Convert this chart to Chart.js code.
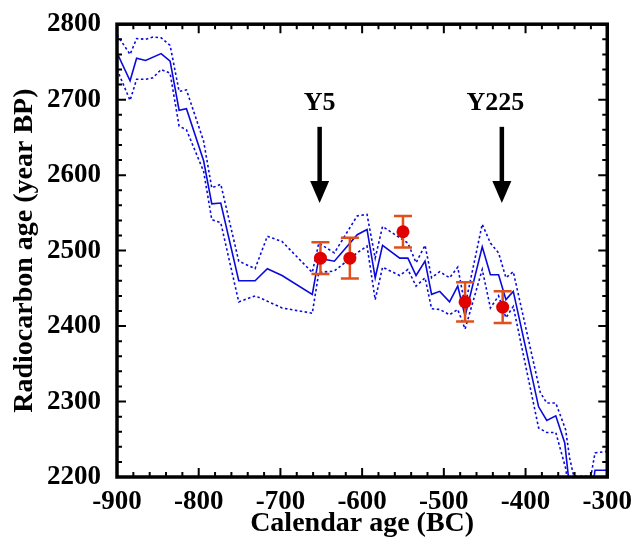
<!DOCTYPE html>
<html lang="en">
<head>
<meta charset="UTF-8">
<title>Radiocarbon calibration</title>
<script src="https://cdn.jsdelivr.net/npm/chart.js"></script>
<style>
    body { margin: 0; background: #fff; }
    canvas { display: block; }
</style>
</head>
<body>
<canvas id="chart" width="633" height="544"></canvas>
<script>
// calibration curve (mean and +/- 1 sigma band)
const meanX = [-900, -884, -876, -865, -846, -835, -824, -815, -794, -784, -773, -751, -731, -716, -698, -661, -653, -634, -606, -594, -584, -575, -554, -544, -534, -523, -515, -505, -493, -483, -474, -453, -443, -433, -424, -415, -384, -374, -363, -352, -346, -318, -315, -300];
const meanY = [2762, 2725, 2755, 2752, 2761, 2751, 2686, 2688, 2619, 2562, 2563, 2460, 2460, 2476, 2467, 2442, 2490, 2486, 2521, 2528, 2464, 2507, 2490, 2490, 2467, 2486, 2442, 2446, 2432, 2453, 2413, 2505, 2468, 2468, 2435, 2446, 2293, 2275, 2281, 2245, 2185, 2185, 2209, 2209];

const upperX = [-900, -884, -876, -865, -856, -846, -835, -824, -815, -794, -784, -773, -751, -731, -716, -698, -661, -653, -634, -606, -594, -584, -575, -554, -544, -534, -523, -515, -505, -493, -483, -474, -453, -443, -433, -424, -415, -382, -374, -363, -351, -346, -341, -320, -315, -300];
const upperY = [2786, 2760, 2781, 2780, 2783, 2782, 2772, 2711, 2713, 2645, 2583, 2588, 2486, 2476, 2519, 2512, 2471, 2510, 2497, 2546, 2548, 2490, 2532, 2517, 2510, 2484, 2507, 2464, 2472, 2464, 2478, 2427, 2535, 2510, 2497, 2464, 2472, 2312, 2298, 2298, 2263, 2225, 2201, 2201, 2232, 2234];

const lowerX = [-900, -884, -876, -865, -856, -846, -835, -824, -815, -794, -784, -773, -751, -731, -716, -698, -661, -653, -634, -606, -594, -584, -575, -554, -544, -534, -523, -515, -505, -493, -483, -474, -453, -443, -433, -424, -415, -384, -374, -363, -351, -345, -318, -315, -300];
const lowerY = [2740, 2699, 2727, 2727, 2729, 2740, 2735, 2665, 2660, 2605, 2541, 2537, 2432, 2440, 2433, 2424, 2417, 2471, 2473, 2497, 2506, 2435, 2478, 2467, 2475, 2453, 2464, 2423, 2422, 2415, 2422, 2396, 2475, 2424, 2440, 2411, 2426, 2265, 2259, 2259, 2212, 2170, 2170, 2185, 2185];

// measured samples
const sampleX = [-651, -615, -550, -474, -428];
const sampleY = [2490, 2490, 2525, 2432, 2425];
const sampleErr = [21, 27, 21, 26, 21];

// arrow markers
const arrowLabels = ['Y5', 'Y225'];
const arrowX = [-652, -429];
const labelX = [-652, -437];
const arrowTop = 2664;
const arrowTip = 2563;
const labelY = 2686;

const xTicks = [-900, -800, -700, -600, -500, -400, -300];
const yTicks = [2200, 2300, 2400, 2500, 2600, 2700, 2800];

const BLUE = '#0a0adc';
const serif = "'Liberation Serif', 'Times New Roman', serif";

function pts(xs, ys) {
    return xs.map((x, i) => ({ x: x, y: ys[i] }));
}

const errorBars = {
    id: 'errorBars',
    beforeDatasetDraw(chart, args) {
        if (args.index !== 0) return;
        const ctx = chart.ctx;
        const xs = chart.scales.x, ys = chart.scales.y;
        ctx.save();
        ctx.strokeStyle = '#e0501a';
        ctx.lineWidth = 2.5;
        sampleX.forEach((v, i) => {
            const px = xs.getPixelForValue(v);
            const top = ys.getPixelForValue(sampleY[i] + sampleErr[i]);
            const bot = ys.getPixelForValue(sampleY[i] - sampleErr[i]);
            ctx.beginPath();
            ctx.moveTo(px, top); ctx.lineTo(px, bot);
            ctx.moveTo(px - 9, top); ctx.lineTo(px + 9, top);
            ctx.moveTo(px - 9, bot); ctx.lineTo(px + 9, bot);
            ctx.stroke();
        });
        ctx.restore();
    }
};

const arrows = {
    id: 'arrows',
    afterDatasetsDraw(chart) {
        const ctx = chart.ctx;
        const xs = chart.scales.x, ys = chart.scales.y;
        ctx.save();
        ctx.fillStyle = '#000';
        ctx.strokeStyle = '#000';
        ctx.font = 'bold 26px ' + serif;
        ctx.textAlign = 'center';
        ctx.textBaseline = 'alphabetic';
        arrowX.forEach((v, i) => {
            const px = xs.getPixelForValue(v);
            const y0 = ys.getPixelForValue(arrowTop);
            const y1 = ys.getPixelForValue(arrowTip);
            ctx.lineWidth = 4.5;
            ctx.beginPath();
            ctx.moveTo(px, y0); ctx.lineTo(px, y1 - 18);
            ctx.stroke();
            ctx.beginPath();
            ctx.moveTo(px - 9.5, y1 - 22);
            ctx.lineTo(px + 9.5, y1 - 22);
            ctx.lineTo(px, y1);
            ctx.closePath();
            ctx.fill();
            ctx.fillText(arrowLabels[i], xs.getPixelForValue(labelX[i]), ys.getPixelForValue(labelY));
        });
        ctx.restore();
    }
};

const frame = {
    id: 'frame',
    afterDraw(chart) {
        const ctx = chart.ctx;
        const a = chart.chartArea;
        const xs = chart.scales.x, ys = chart.scales.y;
        ctx.save();
        ctx.strokeStyle = '#000';
        ctx.lineWidth = 2;
        ctx.beginPath();
        for (let v = -900; v <= -300; v += 20) {
            const px = xs.getPixelForValue(v);
            const len = v % 100 === 0 ? 9 : 5;
            ctx.moveTo(px, a.bottom); ctx.lineTo(px, a.bottom - len);
            ctx.moveTo(px, a.top); ctx.lineTo(px, a.top + len);
        }
        for (let v = 2200; v <= 2800; v += 20) {
            const py = ys.getPixelForValue(v);
            const len = v % 100 === 0 ? 9 : 5;
            ctx.moveTo(a.left, py); ctx.lineTo(a.left + len, py);
            ctx.moveTo(a.right, py); ctx.lineTo(a.right - len, py);
        }
        ctx.stroke();
        ctx.lineWidth = 3.5;
        ctx.strokeRect(a.left, a.top, a.right - a.left, a.bottom - a.top);
        ctx.restore();
    }
};

new Chart(document.getElementById('chart'), {
    type: 'scatter',
    data: {
        datasets: [
            {
                label: 'Samples',
                data: pts(sampleX, sampleY),
                pointRadius: 6.5,
                pointBackgroundColor: '#e00000',
                pointBorderWidth: 0,
                showLine: false
            },
            {
                label: 'Mean',
                data: pts(meanX, meanY),
                showLine: true,
                borderColor: BLUE,
                borderWidth: 1.6,
                pointRadius: 0
            },
            {
                label: 'Upper',
                data: pts(upperX, upperY),
                showLine: true,
                borderColor: BLUE,
                borderWidth: 1.6,
                borderDash: [2.5, 2.5],
                pointRadius: 0
            },
            {
                label: 'Lower',
                data: pts(lowerX, lowerY),
                showLine: true,
                borderColor: BLUE,
                borderWidth: 1.6,
                borderDash: [2.5, 2.5],
                pointRadius: 0
            }
        ]
    },
    options: {
        responsive: false,
        animation: false,
        devicePixelRatio: 1,
        layout: { padding: { left: 0, right: 24, top: 16, bottom: 0 } },
        plugins: {
            legend: { display: false },
            tooltip: { enabled: false }
        },
        scales: {
            x: {
                type: 'linear',
                min: -900,
                max: -300,
                afterFit: s => { s.height = 67; },
                afterBuildTicks: s => { s.ticks = xTicks.map(v => ({ value: v })); },
                grid: { display: false },
                border: { display: false },
                ticks: {
                    padding: 1,
                    color: '#000',
                    font: { family: serif, size: 27, weight: 'bold' },
                    maxRotation: 0,
                    callback: v => String(v)
                },
                title: {
                    display: true,
                    text: 'Calendar age (BC)',
                    color: '#000',
                    font: { family: serif, size: 28, weight: 'bold' },
                    padding: { top: 0, bottom: 3 }
                }
            },
            y: {
                type: 'linear',
                min: 2200,
                max: 2800,
                afterFit: s => { s.width = 117; },
                afterBuildTicks: s => { s.ticks = yTicks.map(v => ({ value: v })); },
                grid: { display: false },
                border: { display: false },
                ticks: {
                    padding: 8,
                    color: '#000',
                    font: { family: serif, size: 27, weight: 'bold' },
                    callback: v => String(v)
                },
                title: {
                    display: true,
                    text: 'Radiocarbon age (year BP)',
                    color: '#000',
                    font: { family: serif, size: 28, weight: 'bold' },
                    padding: { top: 8, bottom: 0 }
                }
            }
        }
    },
    plugins: [errorBars, arrows, frame]
});
</script>
</body>
</html>
